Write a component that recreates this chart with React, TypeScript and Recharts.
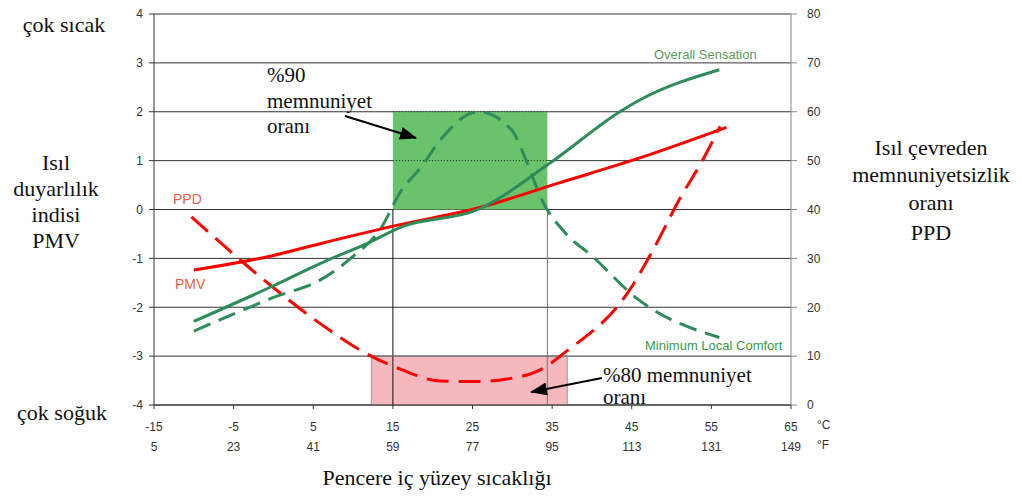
import React from 'react'
import { LineChart, Line, XAxis, YAxis, CartesianGrid, ReferenceArea, ReferenceLine } from 'recharts'

// axis ticks
const celsiusTicks = [-15, -5, 5, 15, 25, 35, 45, 55, 65]
const fahrenheitTicks = [5, 23, 41, 59, 77, 95, 113, 131, 149]
const pmvTicks = [-4, -3, -2, -1, 0, 1, 2, 3, 4]
const ppdTicks = [0, 10, 20, 30, 40, 50, 60, 70, 80]

// PMV (left axis, red solid)
const pmvTemps = [-10, 0, 6.1, 15.9, 25.7, 36, 46.1, 56.9]
const pmvValues = [-1.24, -0.94, -0.69, -0.31, 0.03, 0.55, 1.06, 1.68]

// Overall Sensation (left axis, green solid)
const overallTemps = [-10, 0, 6.2, 11.3, 16.2, 25.7, 35, 43.5, 46, 56]
const overallValues = [-2.29, -1.56, -1.08, -0.73, -0.35, 0, 0.98, 2.0, 2.24, 2.86]

// Minimum Local Comfort (left axis, green dashed)
const localTemps = [-10, 0, 6, 10, 13.4, 16, 18.6, 21, 25.7, 29.9, 31.8, 33.7, 36.6, 40, 45.8, 56]
const localValues = [-2.49, -1.8, -1.43, -0.96, -0.41, 0.37, 0.88, 1.43, 2.0, 1.63, 0.98, 0.2, -0.47, -0.95, -1.84, -2.62]

// PPD (right axis, red dashed)
const ppdTemps = [-10.3, 0, 6, 11.7, 16, 21, 25.7, 29.3, 34.4, 36, 44.8, 47.7, 51.1, 53.8, 56.1]
const ppdValues = [38.5, 24, 16.5, 10.5, 7.3, 4.9, 4.8, 5.3, 8, 10, 23.7, 31.8, 42.4, 49.8, 57]

// comfort zones
const zone90 = { x1: 15, x2: 34.4, y1: 0, y2: 2 }
const zone80 = { x1: 12.3, x2: 36.9, y1: 0, y2: 10 }

const toPoints = (temps: number[], values: number[]) => temps.map((t, i) => ({ t, v: values[i] }))

const GREEN = '#2E8B5A'
const RED = '#FF0000'
const SERIF = '"Liberation Serif", "Times New Roman", serif'
const SANS = '"Liberation Sans", Arial, sans-serif'

const XTick = (props: any) => {
  const { x, y, payload } = props
  const idx = celsiusTicks.indexOf(payload.value)
  return (
    <g>
      <text x={x} y={y + 20} textAnchor="middle" fontSize={12} fontFamily={SANS} fill="#333">{payload.value}</text>
      <text x={x} y={y + 40} textAnchor="middle" fontSize={12} fontFamily={SANS} fill="#333">{fahrenheitTicks[idx]}</text>
    </g>
  )
}

const App = () => {
  return (
    <div style={{ position: 'absolute', left: 0, top: 0, width: 1022, height: 496, background: '#fff' }}>
      <LineChart width={1022} height={496} margin={{ top: 14, right: 191, bottom: 41, left: 114 }}>
        <CartesianGrid yAxisId="left" vertical={false} stroke="#333" />
        <XAxis
          type="number"
          dataKey="t"
          domain={[-15, 65]}
          ticks={celsiusTicks}
          allowDataOverflow
          height={50}
          tickSize={4}
          tick={<XTick />}
          axisLine={{ stroke: '#333' }}
          tickLine={{ stroke: '#333' }}
        />
        <YAxis
          yAxisId="left"
          domain={[-4, 4]}
          ticks={pmvTicks}
          allowDataOverflow
          width={40}
          tickSize={5}
          tickMargin={6}
          tick={{ fontSize: 12, fontFamily: SANS, fill: '#333' }}
          axisLine={{ stroke: '#333' }}
          tickLine={{ stroke: '#333' }}
        />
        <YAxis
          yAxisId="right"
          orientation="right"
          domain={[0, 80]}
          ticks={ppdTicks}
          allowDataOverflow
          width={40}
          tickSize={6}
          tickMargin={10}
          tick={{ fontSize: 12, fontFamily: SANS, fill: '#333', textAnchor: 'start' }}
          axisLine={{ stroke: '#888' }}
          tickLine={{ stroke: '#888' }}
        />

        <ReferenceArea yAxisId="left" x1={zone90.x1} x2={zone90.x2} y1={zone90.y1} y2={zone90.y2} fill="#6AC26A" fillOpacity={1} stroke="none" />
        <ReferenceArea yAxisId="right" x1={zone80.x1} x2={zone80.x2} y1={zone80.y1} y2={zone80.y2} fill="#F5B8BD" fillOpacity={1} stroke="#999" />
        <ReferenceLine yAxisId="left" segment={[{ x: zone90.x1, y: 1 }, { x: zone90.x2, y: 1 }]} stroke="#222" strokeDasharray="1 2" />
        <ReferenceLine yAxisId="left" segment={[{ x: zone90.x1, y: 2 }, { x: zone90.x2, y: 2 }]} stroke="#222" strokeDasharray="1 2" />
        <ReferenceLine yAxisId="left" segment={[{ x: 15, y: -4 }, { x: 15, y: 0 }]} stroke="#111" />
        <ReferenceLine yAxisId="left" segment={[{ x: zone90.x2, y: -4 }, { x: zone90.x2, y: 0 }]} stroke="#777" />
        <ReferenceLine yAxisId="left" segment={[{ x: zone80.x1, y: -3 }, { x: zone80.x2, y: -3 }]} stroke="#666" />

        <Line yAxisId="right" data={toPoints(ppdTemps, ppdValues)} dataKey="v" type="monotone" stroke={RED} strokeWidth={3} strokeDasharray="22 10" dot={false} isAnimationActive={false} />
        <Line yAxisId="left" data={toPoints(localTemps, localValues)} dataKey="v" type="monotone" stroke={GREEN} strokeWidth={3} strokeDasharray="18 9" dot={false} isAnimationActive={false} />
        <Line yAxisId="left" data={toPoints(pmvTemps, pmvValues)} dataKey="v" type="monotone" stroke={RED} strokeWidth={3} dot={false} isAnimationActive={false} />
        <Line yAxisId="left" data={toPoints(overallTemps, overallValues)} dataKey="v" type="monotone" stroke={GREEN} strokeWidth={3} dot={false} isAnimationActive={false} />
      </LineChart>

      <svg width={1022} height={496} style={{ position: 'absolute', left: 0, top: 0, pointerEvents: 'none' }}>
        <defs>
          <marker id="arrowHead" markerWidth="17" markerHeight="13" refX="16" refY="6.5" orient="auto" markerUnits="userSpaceOnUse">
            <path d="M0,0 L17,6.5 L0,13 z" fill="#000" />
          </marker>
        </defs>

        <g fontFamily={SERIF} fontSize={22} fill="#111" textAnchor="middle">
          <text x={64} y={32}>çok sıcak</text>
          <text x={56} y={170}>Isıl</text>
          <text x={56} y={196}>duyarlılık</text>
          <text x={56} y={222}>indisi</text>
          <text x={56} y={248}>PMV</text>
          <text x={62} y={420}>çok soğuk</text>
          <text x={931} y={155}>Isıl çevreden</text>
          <text x={931} y={182}>memnuniyetsizlik</text>
          <text x={931} y={210}>oranı</text>
          <text x={931} y={240}>PPD</text>
          <text x={437} y={485}>Pencere iç yüzey sıcaklığı</text>
        </g>

        <g fontFamily={SERIF} fontSize={21} fill="#111">
          <text x={267} y={82}>%90</text>
          <text x={267} y={108}>memnuniyet</text>
          <text x={267} y={133}>oranı</text>
          <text x={603} y={382}>%80 memnuniyet</text>
          <text x={603} y={404}>oranı</text>
        </g>
        <line x1={345} y1={116} x2={416} y2={138} stroke="#000" strokeWidth={2} markerEnd="url(#arrowHead)" />
        <line x1={602} y1={378} x2={531} y2={392} stroke="#000" strokeWidth={2} markerEnd="url(#arrowHead)" />

        <g fontFamily={SANS} fontSize={13}>
          <text x={654} y={59} fill="#5E9A60">Overall Sensation</text>
          <text x={645} y={350} fill="#3A9A4A">Minimum Local Comfort</text>
          <text x={173} y={204} fill="#E8604C" fontSize={14}>PPD</text>
          <text x={175} y={289} fill="#E8604C" fontSize={14}>PMV</text>
        </g>

        <g fontFamily={SANS} fontSize={12} fill="#333">
          <text x={817} y={429}>°C</text>
          <text x={817} y={449}>°F</text>
        </g>
      </svg>
    </div>
  )
}

export default App
